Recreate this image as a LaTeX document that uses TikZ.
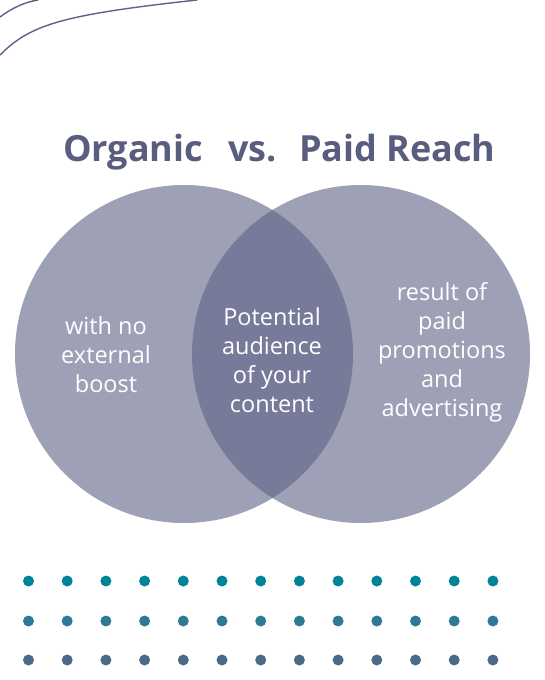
\documentclass[tikz,border=0pt]{standalone}
\usepackage{fontspec}
\setmainfont{Open Sans}
\definecolor{venn}{RGB}{93,98,133}
\definecolor{titlec}{RGB}{90,94,126}
\definecolor{dotA}{RGB}{0,130,152}
\definecolor{dotB}{RGB}{46,122,148}
\definecolor{dotC}{RGB}{74,106,138}
\begin{document}
\begin{tikzpicture}[x=1pt, y=-1pt, line cap=round, line join=round,
    ttl/.style={inner sep=0pt, anchor=base west, text=titlec,
      font=\fontsize{36}{40}\selectfont\bfseries},
    body/.style={inner sep=0pt, align=center, text=white,
      font=\fontsize{23.5}{29}\selectfont},
    disc/.style={fill=venn, fill opacity=0.6},
    swoosh/.style={draw=venn, line width=1.4pt}]
  \useasboundingbox (0,0) rectangle (544,680);
  % corner lines
  \draw[swoosh] (0,17) .. controls (12,8) and (25,2) .. (38,0);
  \draw[swoosh] (0,55) .. controls (30,25) and (60,15) .. (197,0);
  % title
  \node[ttl] (org) at (63,161) {Organic};
  \node[ttl] (vs) at (228,161) {vs.};
  \node[ttl] (paid) at (299,161) {Paid Reach};
  % circles
  \fill[disc] (184,354) circle (169);
  \fill[disc] (361,354) circle (169);
  \node[body] (left) at (106,355) {with no\\external\\boost};
  \node[body] (mid) at (272,360) {Potential\\audience\\of your\\content};
  \node[body] (right) at (442,352) {result of\\paid\\promotions\\and\\advertising};
  % dots
  \foreach \i in {0,...,12} {
    \fill[dotA] (28.5+38.7*\i,581) circle (5.5);
    \fill[dotB] (28.5+38.7*\i,621) circle (5.5);
    \fill[dotC] (28.5+38.7*\i,660) circle (5.5);
  }
\end{tikzpicture}
\end{document}
